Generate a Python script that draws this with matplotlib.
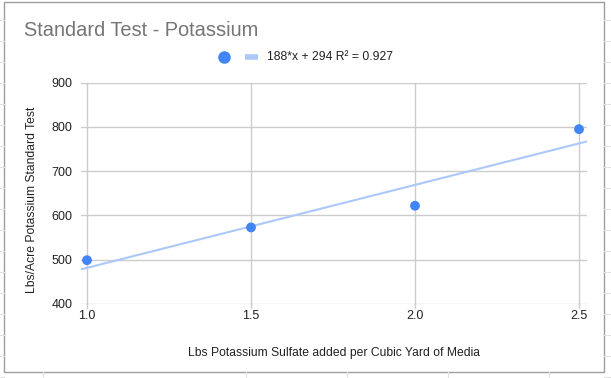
import matplotlib
matplotlib.use("Agg")
import matplotlib.pyplot as plt
import numpy as np
from matplotlib.patches import Rectangle
from matplotlib.lines import Line2D

# Data
x_vals = [1.0, 1.5, 2.0, 2.5]
y_vals = [499, 573, 622, 795]
x_ticks = [1.0, 1.5, 2.0, 2.5]
y_ticks = [400, 500, 600, 700, 800, 900]
title = "Standard Test - Potassium"
x_label = "Lbs Potassium Sulfate added per Cubic Yard of Media"
y_label = "Lbs/Acre Potassium Standard Test"
trend_label = "188*x + 294 R\u00b2 = 0.927"

plt.rcParams['font.family'] = ['Liberation Sans', 'DejaVu Sans']

W, H = 611, 378
fig = plt.figure(figsize=(W / 100, H / 100), dpi=100)
fig.patch.set_facecolor('white')

def fx(px):
    return px / W

def fy(py):
    return 1 - py / H

# spreadsheet cell lines around the chart
cell_col = '#e2e2e2'
for yy in np.arange(20, 378, 21):
    fig.add_artist(Line2D([fx(0), fx(4)], [fy(yy), fy(yy)], color=cell_col, lw=0.8))
    fig.add_artist(Line2D([fx(604), fx(611)], [fy(yy), fy(yy)], color=cell_col, lw=0.8))
for xx in [43, 246, 347, 448, 549]:
    fig.add_artist(Line2D([fx(xx), fx(xx)], [fy(372), fy(378)], color=cell_col, lw=0.8))

# chart border
fig.add_artist(Rectangle((fx(4), fy(372)), fx(604) - fx(4), fy(2) - fy(372),
                         transform=fig.transFigure, fill=False, edgecolor='#9e9e9e', lw=1.0))

ax_left, ax_right = 81, 587
ax_top, ax_bottom = 82.7, 304
ax = fig.add_axes([fx(ax_left), fy(ax_bottom), fx(ax_right) - fx(ax_left), fy(ax_top) - fy(ax_bottom)])
ax.set_facecolor('none')

# x limits: 1.0 at px 87, 2.5 at px 579
scale = (579 - 87) / 1.5
xmin = 1.0 - (87 - ax_left) / scale
xmax = 2.5 + (ax_right - 579) / scale
ax.set_xlim(xmin, xmax)
ax.set_ylim(400, 900)

ax.set_xticks(x_ticks)
ax.set_xticklabels([f"{v:.1f}" for v in x_ticks])
ax.set_yticks(y_ticks)
ax.set_yticklabels([str(v) for v in y_ticks])

for s in ax.spines.values():
    s.set_visible(False)

for yv in y_ticks:
    ax.axhline(yv, color='#cccccc', lw=1.0, zorder=0)
for xv in x_ticks:
    ax.plot([xv, xv], [400, 900], color='#cccccc', lw=1.0, zorder=0, clip_on=False)
    ax.plot([xv, xv], [400, 400 - 500 * 4 / 221.3], color='#cccccc', lw=1.0, zorder=0, clip_on=False)

ax.tick_params(axis='both', length=0, labelsize=9, colors='#222222')
ax.tick_params(axis='x', pad=4)
ax.tick_params(axis='y', pad=6)

# trendline
coef = np.polyfit(x_vals, y_vals, 1)
tx = np.array([xmin, xmax])
ax.plot(tx, coef[0] * tx + coef[1], color='#abc8f9', lw=1.5, zorder=2, solid_capstyle='butt')

ax.scatter(x_vals, y_vals, s=50, color='#4285f4', zorder=3, edgecolors='none', clip_on=False)

ax.set_xlabel(x_label, fontsize=8.75, color='#222222', labelpad=18)
ax.set_ylabel(y_label, fontsize=8.75, color='#222222')
ax.yaxis.set_label_coords((38 - ax_left) / (ax_right - ax_left), (ax_bottom - 200) / (ax_bottom - ax_top))

fig.text(fx(24), fy(30), title, fontsize=14.4, color='#757575', va='center', ha='left')

# legend
fig.add_artist(Line2D([fx(224)], [fy(57)], marker='o', markersize=8, color='#4285f4', linestyle='none'))
fig.add_artist(Line2D([fx(245), fx(258)], [fy(57), fy(57)], color='#abc8f9', lw=4, solid_capstyle='butt'))
fig.text(fx(267), fy(57), trend_label, fontsize=8.75, color='#222222', va='center', ha='left')

fig.savefig('out.png', dpi=100)
